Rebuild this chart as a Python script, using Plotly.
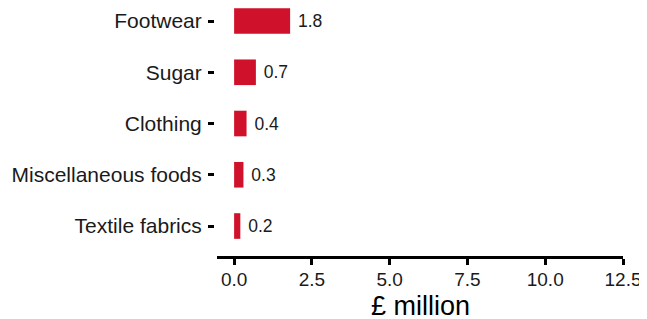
import plotly.graph_objects as go

categories = ["Textile fabrics", "Miscellaneous foods", "Clothing", "Sugar", "Footwear"]
values = [0.2, 0.3, 0.4, 0.7, 1.8]
labels = ["0.2", "0.3", "0.4", "0.7", "1.8"]
x_ticks = [0, 2.5, 5, 7.5, 10, 12.5]
x_tick_text = ["0.0", "2.5", "5.0", "7.5", "10.0", "12.5"]
x_title = "£ million"

FONT = "Liberation Sans, Arial, sans-serif"
W, H = 639, 311          # page body adds an 8px margin
L, R, T, B = 206, 24, 0, 63
plot_w = W - L - R

fig = go.Figure(go.Bar(
    x=values, y=categories, orientation="h",
    marker=dict(color="#D0112B", line=dict(width=0)),
    width=0.5,
    text=labels, texttemplate=" %{text}", textposition="outside", cliponaxis=False,
    textfont=dict(size=17.5, color="#1a1a1a", family=FONT),
))

fig.add_annotation(
    text=x_title, xref="x domain", x=0.5, yref="paper", y=0,
    xanchor="center", yanchor="middle", yshift=-50, showarrow=False,
    font=dict(size=27, color="black", family=FONT),
)

fig.update_layout(
    width=W, height=H,
    margin=dict(l=L, r=R, t=T, b=B, autoexpand=False),
    paper_bgcolor="white", plot_bgcolor="white",
    font=dict(family=FONT, color="#1a1a1a", size=21),
    showlegend=False,
    xaxis=dict(
        domain=[3 / plot_w, 1],
        range=[-0.55, 12.5], tickvals=x_ticks, ticktext=x_tick_text,
        showgrid=False, zeroline=False, showline=True, linecolor="black", linewidth=2.5,
        ticks="outside", ticklen=6, tickwidth=2.5, tickcolor="black",
        tickfont=dict(size=19, color="#1a1a1a"),
        ticklabelstandoff=-2,
        automargin=False,
    ),
    yaxis=dict(
        anchor="free", position=0,
        range=[-0.585, 4.254], showgrid=False, zeroline=False, showline=False,
        ticks="outside", ticklen=6, tickwidth=2.5, tickcolor="black",
        tickfont=dict(size=21, color="#1a1a1a"),
        ticklabelstandoff=2,
        automargin=False,
    ),
)

fig.write_html("out.html")
